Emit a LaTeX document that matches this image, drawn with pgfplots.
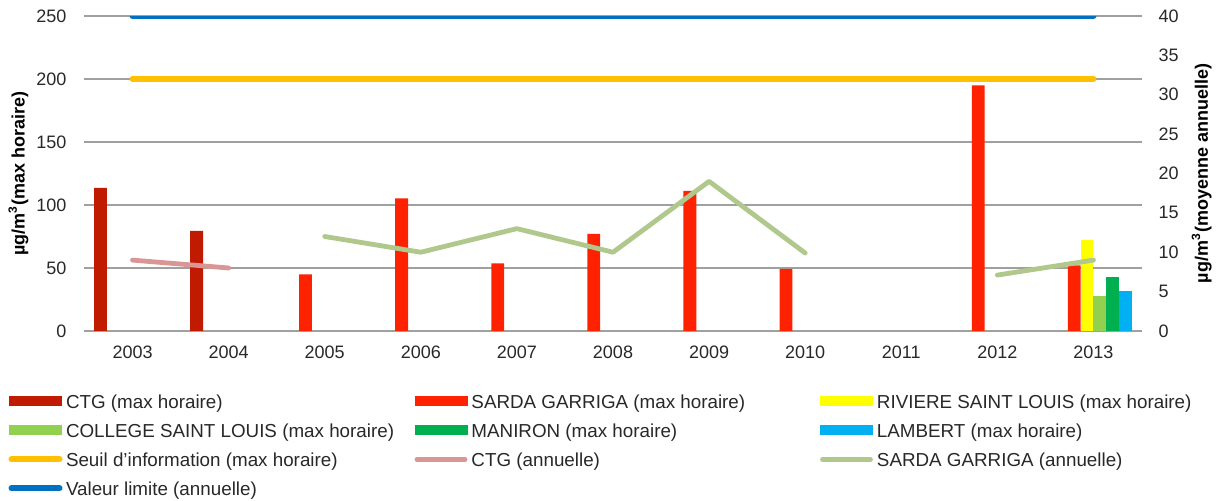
\documentclass[border=0pt]{standalone}
\usepackage{pgfplots}
\pgfplotsset{compat=1.18}
\usepackage{fontspec}
\setmainfont{Liberation Sans}

\definecolor{ctg}{RGB}{192,26,0}
\definecolor{sarda}{RGB}{255,34,0}
\definecolor{riviere}{RGB}{255,255,0}
\definecolor{college}{RGB}{146,208,80}
\definecolor{maniron}{RGB}{0,176,80}
\definecolor{lambert}{RGB}{0,176,240}
\definecolor{seuil}{RGB}{255,192,0}
\definecolor{ctgann}{RGB}{217,150,148}
\definecolor{sardaann}{RGB}{176,200,140}
\definecolor{limite}{RGB}{0,112,192}
\definecolor{gridgray}{RGB}{160,160,160}
\definecolor{txt}{RGB}{40,40,40}

\pgfplotsset{
  baseaxis/.style={
    scale only axis,
    width=528.5pt, height=157.5pt,
    xmin=-0.5, xmax=10.5,
    font=\fontsize{9}{10}\selectfont,
    /pgf/number format/assume math mode=true,
    axis line style={draw=none},
    major tick length=0pt,
    tick label style={text=txt},
  },
  barleg/.style={legend image code/.code={
    \path[draw=none, fill=none] (0pt,-3pt) rectangle (28.5pt,4pt);
    \fill[##1, draw=none] (0pt,-1.5pt) rectangle (26.5pt,3.5pt);}},
  lineleg/.style={legend image code/.code={
    \path[draw=none, fill=none] (0pt,-3pt) rectangle (28.5pt,4pt);
    \draw[##1] (1.25pt,1pt) -- (25.25pt,1pt);}},
}
\newcommand{\legtext}[1]{\makebox[174.25pt][l]{#1}}

\begin{document}
\begin{tikzpicture}
\path[use as bounding box] (-42.25pt,-85pt) rectangle (568.75pt,165.5pt);

\begin{axis}[
  baseaxis,
  ybar=0pt, bar width=6.4pt,
  ymin=0, ymax=250, ytick={0,50,...,250},
  xtick={0,...,10},
  xticklabels={2003,2004,2005,2006,2007,2008,2009,2010,2011,2012,2013},
  xticklabel style={yshift=-4pt},
  yticklabel style={xshift=-5.5pt},
  ymajorgrids, grid style={gridgray, line width=0.8pt},
  ylabel={\bfseries µg/m\textsuperscript{3}(max horaire)},
  ylabel style={at={(axis description cs:-0.0625,0.5)}, anchor=center},
]
\addplot[fill=ctg, draw=none] coordinates {(0,113.5) (1,79.5)};
\addplot[fill=sarda, draw=none] coordinates {(2,45) (3,105.3) (4,53.7) (5,77) (6,111.3) (7,49.2) (9,195) (10,52)};
\addplot[fill=riviere, draw=none] coordinates {(10,72)};
\addplot[fill=college, draw=none] coordinates {(10,28)};
\addplot[fill=maniron, draw=none] coordinates {(10,43)};
\addplot[fill=lambert, draw=none] coordinates {(10,32)};
\end{axis}

\begin{axis}[
  baseaxis,
  ymin=0, ymax=40, ytick={0,5,...,40},
  axis x line=none,
  axis y line*=right,
  yticklabel style={xshift=5pt},
  ylabel={\bfseries µg/m\textsuperscript{3}(moyenne annuelle)},
  ylabel style={at={(axis description cs:1.057,0.5)}, anchor=center},
  legend columns=3,
  legend style={
    at={(axis description cs:-0.0719,-0.2015)}, anchor=north west,
    draw=none, fill=none, inner sep=0pt, outer sep=0pt,
    column sep=0pt, row sep=5.5pt,
    font=\fontsize{9.4}{10}\selectfont,
    nodes={inner sep=0pt, text height=7pt, text depth=2pt, text=txt},
  },
  legend cell align=left,
]
\addlegendimage{barleg, fill=ctg}
\addlegendentry{\legtext{CTG (max horaire)}}
\addlegendimage{barleg, fill=sarda}
\addlegendentry{\legtext{SARDA GARRIGA (max horaire)}}
\addlegendimage{barleg, fill=riviere}
\addlegendentry{\legtext{RIVIERE SAINT LOUIS (max horaire)}}
\addlegendimage{barleg, fill=college}
\addlegendentry{\legtext{COLLEGE SAINT LOUIS (max horaire)}}
\addlegendimage{barleg, fill=maniron}
\addlegendentry{\legtext{MANIRON (max horaire)}}
\addlegendimage{barleg, fill=lambert}
\addlegendentry{\legtext{LAMBERT (max horaire)}}

\addplot[lineleg, seuil, line width=3pt, line cap=round] coordinates {(0,32) (10,32)};
\addlegendentry{\legtext{Seuil d'information (max horaire)}}
\addplot[lineleg, ctgann, line width=2.4pt, line cap=round, line join=round] coordinates {(0,9) (1,8)};
\addlegendentry{\legtext{CTG (annuelle)}}
\addplot[lineleg, sardaann, line width=2.4pt, line cap=round, line join=round] coordinates {(2,12) (3,10) (4,13) (5,10) (6,19) (7,9.9)};
\addlegendentry{\legtext{SARDA GARRIGA (annuelle)}}
\addplot[lineleg, limite, line width=3pt, line cap=round] coordinates {(0,40) (10,40)};
\addlegendentry{\legtext{Valeur limite (annuelle)}}
\addplot[sardaann, line width=2.4pt, line cap=round, line join=round, forget plot] coordinates {(9,7.1) (10,9)};
\end{axis}
\end{tikzpicture}
\end{document}
